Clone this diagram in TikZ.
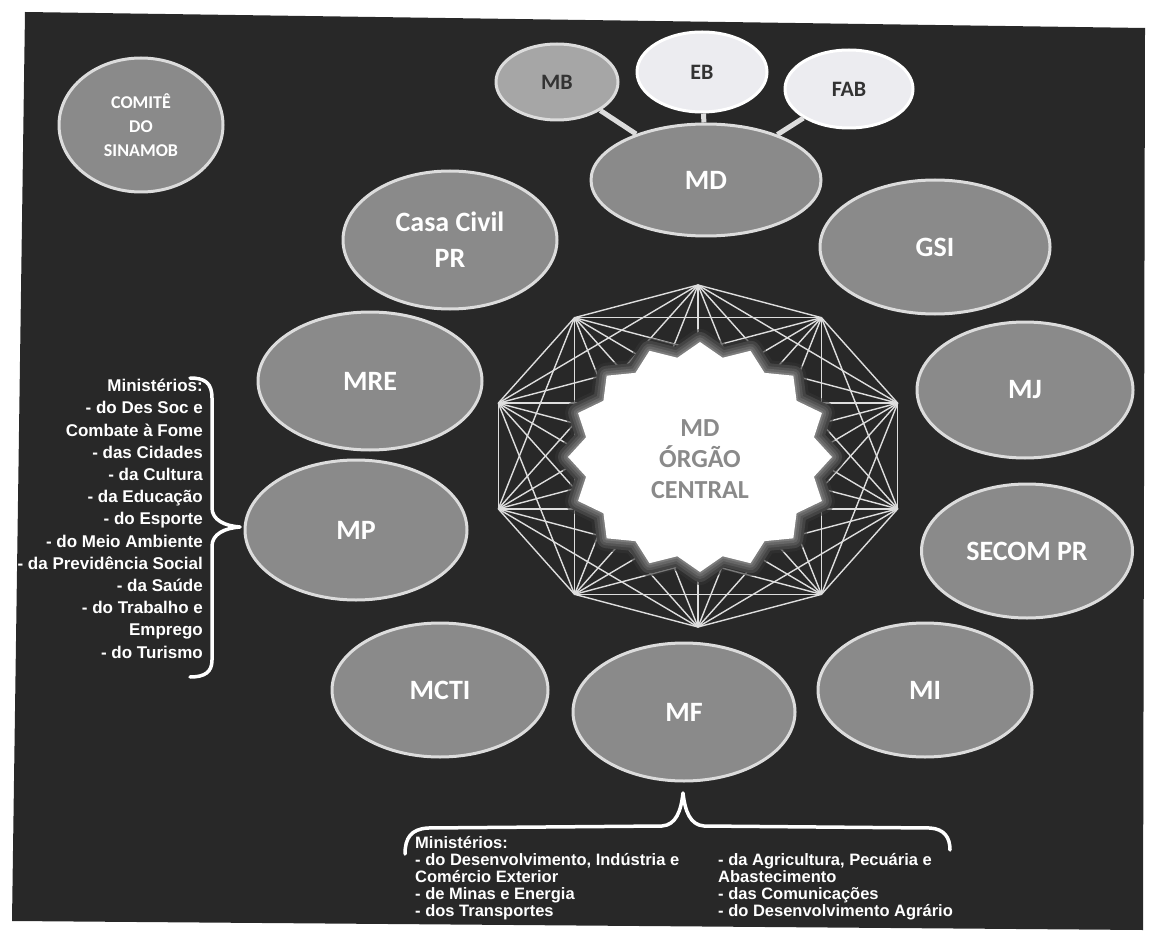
\documentclass[tikz,border=0pt]{standalone}
\usepackage{fontspec}
\setmainfont{Carlito}
\newfontfamily\arialf{Liberation Sans}
\usetikzlibrary{shapes.geometric}
\definecolor{bgdark}{HTML}{282828}
\definecolor{orgfill}{HTML}{8A8A8A}
\definecolor{ringc}{HTML}{DCDCDC}
\definecolor{mbfill}{HTML}{A6A6A6}
\definecolor{lightfill}{HTML}{ECECF0}
\definecolor{darktxt}{HTML}{333333}
\definecolor{chordc}{HTML}{DEDEDE}
\definecolor{glowa}{HTML}{353535}
\definecolor{glowb}{HTML}{444444}
\definecolor{glowc}{HTML}{555555}
\definecolor{glowd}{HTML}{676767}
\definecolor{glowe}{HTML}{7C7C7C}
\definecolor{centtxt}{HTML}{8A8A8A}
\tikzset{
  org/.style={ellipse, draw=ringc, line width=3pt, fill=orgfill, text=white,
    font=\fontsize{28}{36}\selectfont\bfseries, inner sep=0pt, align=center},
  armed/.style={org, fill=lightfill, draw=white, text=darktxt,
    font=\fontsize{22}{26}\selectfont\bfseries},
  link/.style={draw=ringc, line width=5pt},
  chord/.style={draw=chordc, line width=1.4pt},
  glowline/.style={line join=round},
  bracec/.style={draw=white, line width=3.5pt, line cap=round, line join=round},
  listtxt/.style={text=white, inner sep=0pt, font=\arialf\bfseries\fontsize{17}{22.2}\selectfont},
  bottxt/.style={text=white, inner sep=0pt, align=left, font=\arialf\bfseries\fontsize{16.5}{17}\selectfont}
}
\def\starplot{plot[samples at={0,...,31}, variable=\k]
  ({700+132*(1-0.12*mod(\k,2))*cos(90+11.25*\k)},{457+115*(1-0.12*mod(\k,2))*sin(90+11.25*\k)}) -- cycle}
\begin{document}
\begin{tikzpicture}[x=1pt,y=-1pt]
\useasboundingbox (0,0) rectangle (1156,941);
\fill[white] (0,0) rectangle (1156,941);
\fill[bgdark] (25,12) -- (1145,28) -- (1143,930) -- (12,921) -- cycle;

% decagon web
\foreach \i in {0,...,9}
  \path (698,456) ++({210*cos(90+36*\i)},{-171*sin(90+36*\i)}) coordinate (v\i);
\foreach \i in {0,...,8}{
  \pgfmathtruncatemacro\nxt{\i+1}
  \foreach \j in {\nxt,...,9}
    \draw[chord] (v\i) -- (v\j);
}

% central star with soft glow
\draw[glowline, glowa, line width=26pt, opacity=0.6] \starplot;
\draw[glowline, glowb, line width=20pt] \starplot;
\draw[glowline, glowc, line width=14pt] \starplot;
\draw[glowline, glowd, line width=9pt] \starplot;
\draw[glowline, glowe, line width=4pt] \starplot;
\fill[white] \starplot;
\node[text=centtxt, align=center, inner sep=0pt, font=\fontsize{26}{31}\selectfont\bfseries] (central) at (700,459) {MD\\ÓRGÃO\\CENTRAL};

% ellipses
\node[org, minimum width=164pt, minimum height=134pt, font=\fontsize{18}{24}\selectfont\bfseries] (comite) at (141,125) {COMITÊ\\DO\\SINAMOB};
\node[armed, fill=mbfill, draw=ringc, minimum width=122pt, minimum height=76pt] (mb) at (557,82) {MB};
\node[armed, minimum width=130pt, minimum height=80pt] (eb) at (702,72) {EB};
\node[armed, minimum width=128pt, minimum height=78pt] (fab) at (849,89) {FAB};
\node[org, minimum width=230pt, minimum height=112pt] (md) at (706,180) {MD};
\node[org, minimum width=214pt, minimum height=138pt] (casa) at (450,240) {Casa Civil\\PR};
\node[org, minimum width=230pt, minimum height=134pt] (gsi) at (935,247) {GSI};
\node[org, minimum width=224pt, minimum height=138pt] (mre) at (370,381) {MRE};
\node[org, minimum width=216pt, minimum height=136pt] (mj) at (1025,390) {MJ};
\node[org, minimum width=222pt, minimum height=140pt] (mp) at (356,530) {MP};
\node[org, minimum width=211pt, minimum height=134pt] (secom) at (1027,551) {SECOM PR};
\node[org, minimum width=216pt, minimum height=134pt] (mcti) at (440,690) {MCTI};
\node[org, minimum width=222pt, minimum height=138pt] (mf) at (684,712) {MF};
\node[org, minimum width=214pt, minimum height=134pt] (mi) at (925,690) {MI};

% links
\draw[link] (mb) -- (md);
\draw[link] (eb) -- (md);
\draw[link] (fab) -- (md);

% left brace
\coordinate (ltip) at (240,527);
\draw[bracec] (190,378) .. controls (205,378) and (212,383) .. (212,398) -- (212,508)
  .. controls (212,520) and (225,526) .. (ltip)
  .. controls (225,528) and (212,534) .. (212,546) -- (212,660)
  .. controls (212,672) and (205,677) .. (190,677);
\node[listtxt, anchor=north east, align=right] (leftlist) at (203,379)
  {Ministérios:\\- do Des Soc e\\Combate à Fome\\- das Cidades\\- da Cultura\\- da Educação\\- do Esporte\\- do Meio Ambiente\\- da Previdência Social\\- da Saúde\\- do Trabalho e\\Emprego\\- do Turismo};

% bottom brace
\coordinate (btip) at (683,793);
\draw[bracec] (405,854) .. controls (405,838) and (411,829) .. (428,828) -- (662,826)
  .. controls (676,825) and (681,811) .. (btip)
  .. controls (685,811) and (690,825) .. (704,826) -- (930,828)
  .. controls (944,829) and (950,837) .. (950,850);
\node[bottxt, anchor=north west] (botleft) at (415,836)
  {Ministérios:\\- do Desenvolvimento, Indústria e\\Comércio Exterior\\- de Minas e Energia\\- dos Transportes};
\node[bottxt, anchor=north west] (botright) at (718,853)
  {- da Agricultura, Pecuária e\\Abastecimento\\- das Comunicações\\- do Desenvolvimento Agrário};
\end{tikzpicture}
\end{document}
